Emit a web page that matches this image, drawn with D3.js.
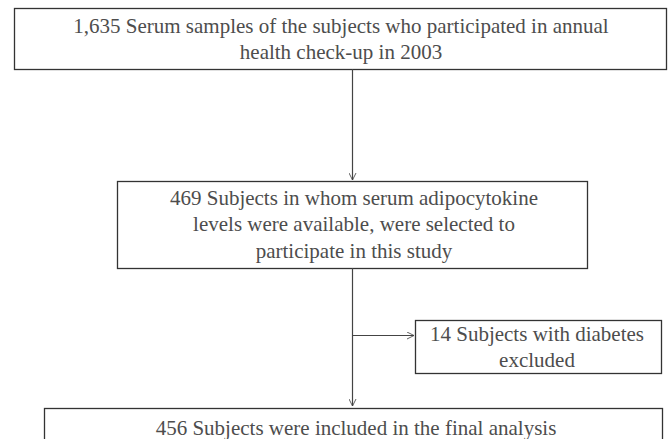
<!DOCTYPE html>
<html>
<head>
<meta charset="utf-8">
<script src="https://cdn.jsdelivr.net/npm/d3@7"></script>
<style>
  body { margin: 0; background: #fff; }
</style>
</head>
<body>
<div id="chart"></div>
<script>
// textos de cada caja
const boxLines1 = ["1,635 Serum samples of the subjects who participated in annual", "health check-up in 2003"];
const boxLines2 = ["469 Subjects in whom serum adipocytokine", "levels were available, were selected to", "participate in this study"];
const boxLines3 = ["14 Subjects with diabetes", "excluded"];
const boxLines4 = ["456 Subjects were included in the final analysis"];

const width = 669, height = 439;
const fuente = "'Liberation Serif', 'Times New Roman', 'DejaVu Serif', serif";

const svg = d3.select("#chart")
    .append("svg")
    .attr("width", width)
    .attr("height", height);

svg.append("defs").append("marker")
    .attr("id", "flecha")
    .attr("viewBox", "0 0 10 10")
    .attr("refX", 10).attr("refY", 5)
    .attr("markerWidth", 7).attr("markerHeight", 8)
    .attr("markerUnits", "userSpaceOnUse")
    .attr("orient", "auto")
    .append("path")
    .attr("d", "M0,0 L10,5 L0,10")
    .attr("fill", "none")
    .attr("stroke", "#444")
    .attr("stroke-width", 1.2);

// geometria de las cajas
const boxes = [
    { lines: boxLines1, x: 14, y: 8, w: 652, h: 61, cx: 341, first: 26, step: 26 },
    { lines: boxLines2, x: 117, y: 181, w: 470, h: 87, cx: 354, first: 198, step: 26.5 },
    { lines: boxLines3, x: 415, y: 320, w: 246, h: 53, cx: 537, first: 334, step: 26 },
    { lines: boxLines4, x: 44, y: 408, w: 618, h: 60, cx: 356, first: 428, step: 26 }
];

const g = svg.selectAll("g.caja")
    .data(boxes)
    .enter()
    .append("g")
    .attr("class", "caja");

g.append("rect")
    .attr("x", d => d.x + 0.5)
    .attr("y", d => d.y + 0.5)
    .attr("width", d => d.w)
    .attr("height", d => d.h)
    .attr("fill", "none")
    .attr("stroke", "#333")
    .attr("stroke-width", 1.3);

g.selectAll("text")
    .data(d => d.lines.map((t, i) => ({ t: t, x: d.cx, y: d.first + i * d.step })))
    .enter()
    .append("text")
    .attr("x", d => d.x)
    .attr("y", d => d.y)
    .attr("dy", "0.33em")
    .attr("text-anchor", "middle")
    .attr("font-family", fuente)
    .attr("font-size", 21)
    .attr("fill", "#4d4d4d")
    .text(d => d.t);

// conectores
const lineX = 352.5;
const links = [
    { x1: lineX, y1: 69, x2: lineX, y2: 180 },
    { x1: lineX, y1: 268, x2: lineX, y2: 406 },
    { x1: lineX, y1: 335.5, x2: 414, y2: 335.5 }
];

svg.selectAll("line.conector")
    .data(links)
    .enter()
    .append("line")
    .attr("class", "conector")
    .attr("x1", d => d.x1).attr("y1", d => d.y1)
    .attr("x2", d => d.x2).attr("y2", d => d.y2)
    .attr("stroke", "#444")
    .attr("stroke-width", 1.2)
    .attr("marker-end", "url(#flecha)");
</script>
</body>
</html>
